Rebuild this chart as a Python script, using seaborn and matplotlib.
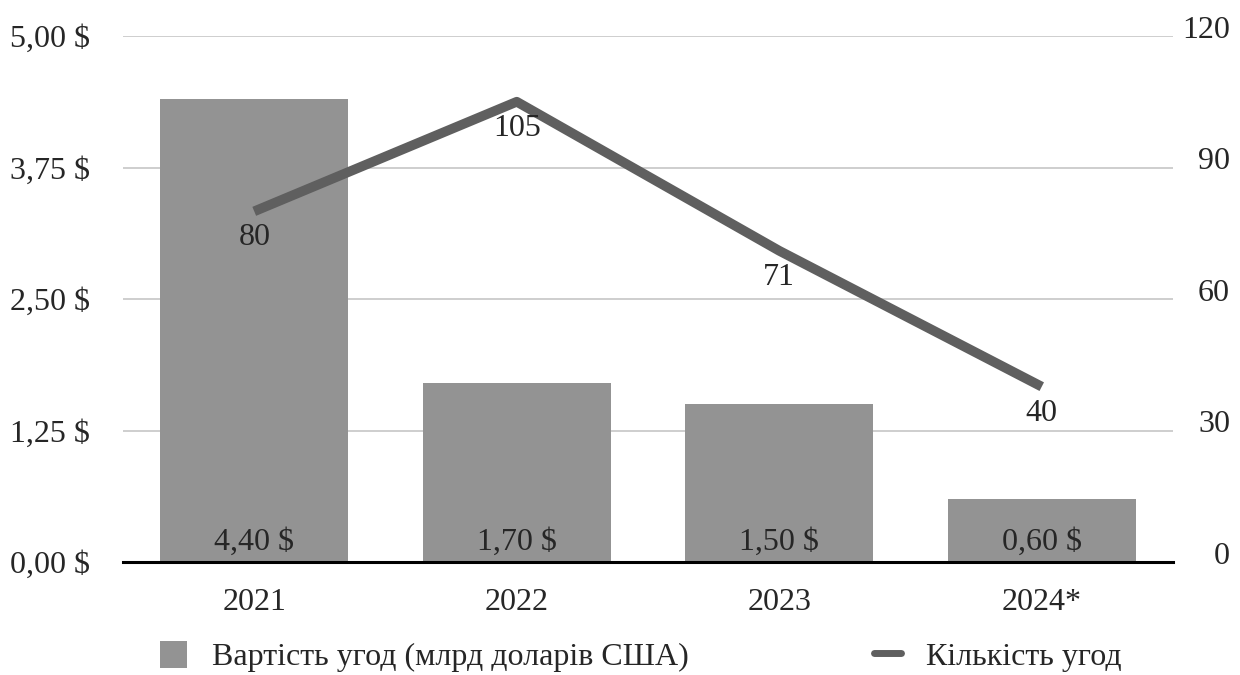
import seaborn as sns
import matplotlib.pyplot as plt
import matplotlib
from matplotlib.patches import Patch
from matplotlib.lines import Line2D
from matplotlib.transforms import ScaledTranslation
matplotlib.use('Agg')

years = ['2021', '2022', '2023', '2024*']
deal_value = [4.40, 1.70, 1.50, 0.60]   # млрд доларів США
deal_count = [80, 105, 71, 40]
left_ticks = [0, 1.25, 2.5, 3.75, 5.0]
right_ticks = [0, 30, 60, 90, 120]

bar_color = '#939393'
line_color = '#5f5f5f'

sns.set_style('white')
plt.rcParams['font.family'] = ['Liberation Serif', 'DejaVu Serif']
fs = 23

fig = plt.figure(figsize=(12.4, 6.75), dpi=100)
ax = fig.add_axes([123/1240, 1-562/675, (1173-123)/1240, (562-36)/675])

sns.barplot(x=years, y=deal_value, ax=ax, color=bar_color, width=0.715,
            saturation=1, edgecolor='none', zorder=2)
ax.set_ylim(0, 5)
ax.set_xlim(-0.5, 3.5)
ax.set_yticks(left_ticks)
ax.set_yticklabels([f'{v:.2f} $'.replace('.', ',') for v in left_ticks], fontsize=fs)
ax.tick_params(axis='y', length=0, pad=24)
ax.tick_params(axis='x', length=0, pad=19, labelsize=fs)
ax.grid(axis='y', color='#c6c6c6', lw=1.2, zorder=0)
ax.set_axisbelow(True)
for s in ['top', 'left', 'right']:
    ax.spines[s].set_visible(False)
ax.spines['bottom'].set_color('black')
ax.spines['bottom'].set_linewidth(2.2)
ax.spines['bottom'].set_zorder(5)

for i, v in enumerate(deal_value):
    ax.annotate(f'{v:.2f} $'.replace('.', ','), (i, 0), xytext=(0, 14),
                textcoords='offset points', ha='center', va='center', fontsize=fs)

ax2 = ax.twinx()
sns.lineplot(x=years, y=deal_count, ax=ax2, color=line_color, lw=7, sort=False,
             solid_capstyle='butt', zorder=3)
ax2.set_ylim(0, 120)
ax2.set_yticks(right_ticks)
ax2.set_yticklabels([str(v) for v in right_ticks], fontsize=fs, ha='right')
ax2.tick_params(axis='y', length=0, pad=41)
for s in ['top', 'left', 'right', 'bottom']:
    ax2.spines[s].set_visible(False)
ax2.set_ylabel('')
off = ScaledTranslation(0, 6.5/72, fig.dpi_scale_trans)
for lbl in ax2.get_yticklabels():
    lbl.set_transform(lbl.get_transform() + off)

for i, v in enumerate(deal_count):
    ax2.annotate(str(v), (i, v), xytext=(0, -19), textcoords='offset points',
                 ha='center', va='center', fontsize=fs)

handles = [Patch(facecolor=bar_color, edgecolor='none'),
           Line2D([0], [0], color=line_color, lw=5)]
labels = ['Вартість угод (млрд доларів США)', 'Кількість угод']
fig.legend(handles, labels, loc='center left', bbox_to_anchor=(160/1240, 0.027),
           ncol=2, frameon=False, fontsize=fs, columnspacing=5.8,
           handlelength=0.85, handleheight=0.9, handletextpad=0.78,
           borderpad=0, borderaxespad=0)

fig.savefig('out.png', dpi=100)
